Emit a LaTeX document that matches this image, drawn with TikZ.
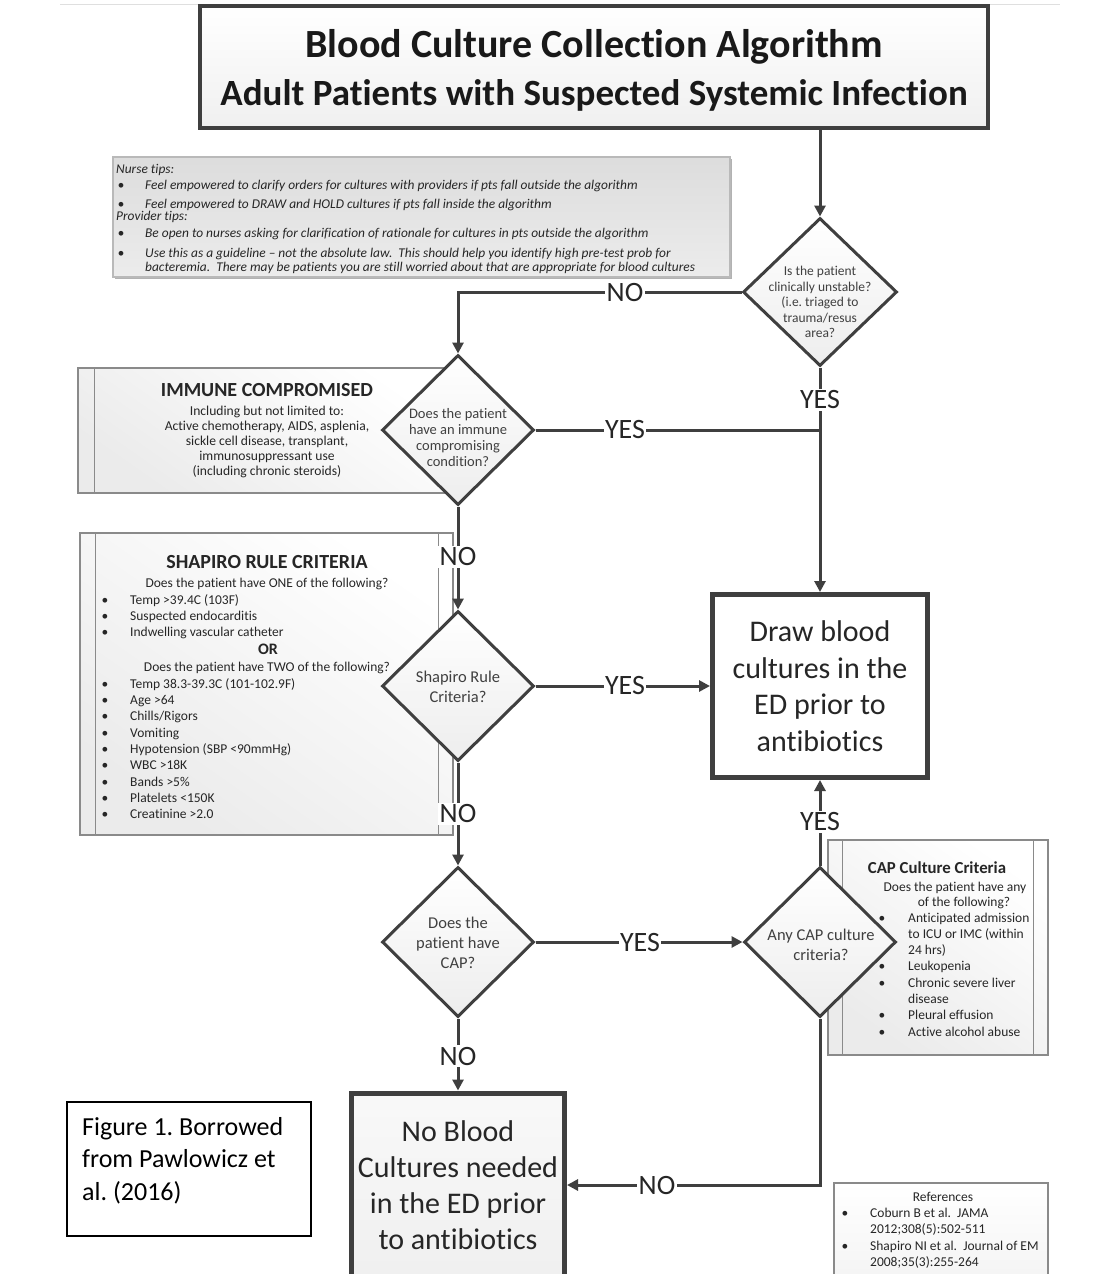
\documentclass[tikz,border=0pt]{standalone}
\usepackage{fontspec}
\setmainfont{Carlito}[Ligatures={NoCommon}]
\usetikzlibrary{arrows.meta,shapes.geometric,calc}
\definecolor{ln}{HTML}{3F3F3F}
\definecolor{tx}{HTML}{262626}
\definecolor{dtx}{HTML}{404040}
\definecolor{bx}{HTML}{8A8A8A}
\newcommand\myfs[2]{\fontsize{#1}{#2}\selectfont}
\frenchspacing
\begin{document}
\begin{tikzpicture}[x=1pt,y=-1pt,
  conn/.style={draw=ln,line width=3pt},
  arr/.style={-{Triangle[length=11pt,width=11pt]}},
  dia/.style={diamond,draw=ln,line width=3pt,minimum width=152pt,minimum height=150pt,inner sep=0pt,top color=white,bottom color=gray!14},
  dtext/.style={align=center,text=dtx,inner sep=0pt},
  lab/.style={fill=white,inner sep=1.5pt,text=tx,font=\myfs{28}{30}},
  bigbox/.style={draw=ln,line width=5pt,inner sep=0pt,align=center,text=tx},
  critbox/.style={draw=bx,line width=1.2pt,inner sep=0pt,shading=axis,top color=white,bottom color=gray!16,shading angle=-35},
  boxln/.style={draw=bx,line width=1.2pt},
  sm/.style={font=\myfs{13.5}{16},text=tx,inner sep=0pt},
  smi/.style={font=\itshape\myfs{13.4}{15},text=tx,inner sep=0pt},
  hd/.style={font=\bfseries\myfs{#1}{#1},text=tx,inner sep=0pt,anchor=base},
  ttl/.style={font=\bfseries\myfs{#1}{#1},text=black!90,inner sep=0pt,anchor=base},
]
\clip (0,0) rectangle (1104,1274);
\fill[white] (0,0) rectangle (1104,1274);
\coordinate (tl1) at (60,4);
\coordinate (tl2) at (1060,4);
\draw[gray!25,line width=1pt] (tl1) -- (tl2);

% ---------- title ----------
\node[draw=ln,line width=4pt,inner sep=0pt,minimum width=788pt,minimum height=122pt,
      top color=white,bottom color=gray!12] (title) at (594,67) {};
\node[ttl=40] (t1) at (594,57) {Blood Culture Collection Algorithm};
\node[ttl=37] (t2) at (594,105) {Adult Patients with Suspected Systemic Infection};

% ---------- nurse tips ----------
\fill[gray!60] (115,159) rectangle (732,279);
\node[draw=gray!55,line width=1.2pt,inner sep=0pt,minimum width=617pt,minimum height=120pt,
      top color=gray!27,bottom color=gray!15] (nurse) at (421.5,217) {};
\node[smi,anchor=base west] (n0) at (116,173) {Nurse tips:};
\node[smi,anchor=base] (nb1) at (121,189) {•};
\node[smi,anchor=base west] (n1) at (145,189) {Feel empowered to clarify orders for cultures with providers if pts fall outside the algorithm};
\node[smi,anchor=base] (nb2) at (121,208) {•};
\node[smi,anchor=base west] (n2) at (145,208) {Feel empowered to DRAW and HOLD cultures if pts fall inside the algorithm};
\node[smi,anchor=base west] (n3) at (116,220) {Provider tips:};
\node[smi,anchor=base] (nb3) at (121,237) {•};
\node[smi,anchor=base west] (n4) at (145,237) {Be open to nurses asking for clarification of rationale for cultures in pts outside the algorithm};
\node[smi,anchor=base] (nb4) at (121,257) {•};
\node[smi,anchor=base west] (n5) at (145,257) {Use this as a guideline – not the absolute law.~~This should help you identify high pre-test prob for};
\node[smi,anchor=base west] (n6) at (145,271) {bacteremia.~~There may be patients you are still worried about that are appropriate for blood cultures};

% ---------- immune box ----------
\node[critbox,minimum width=370pt,minimum height=125pt] (imm) at (263,430.5) {};
\draw[boxln] ($(imm.north west)+(17,0)$) -- ($(imm.south west)+(17,0)$);
\node[hd=20] (immt) at (267,396.5) {IMMUNE COMPROMISED};
\foreach \t [count=\i] in {{Including but not limited to:},{Active chemotherapy, AIDS, asplenia,},{sickle cell disease, transplant,},{immunosuppressant use},{(including chronic steroids)}}
  \node[sm,font=\myfs{13.6}{14},anchor=base] (im\i) at (267,{415+15*(\i-1)}) {\t};

% ---------- shapiro box ----------
\node[critbox,minimum width=373pt,minimum height=302pt] (sh) at (266.5,684) {};
\draw[boxln] ($(sh.north west)+(16,0)$) -- ($(sh.south west)+(16,0)$);
\draw[boxln] ($(sh.north east)+(-15,0)$) -- ($(sh.south east)+(-15,0)$);
\node[hd=20] (sht) at (267,568.5) {SHAPIRO RULE CRITERIA};
\node[sm,anchor=base] (sh1) at (267,587) {Does the patient have ONE of the following?};
\foreach \t [count=\i] in {{Temp >39.4C (103F)},{Suspected endocarditis},{Indwelling vascular catheter}}{
  \node[sm,anchor=base] (sab\i) at (105,{604+16*(\i-1)}) {•};
  \node[sm,anchor=base west] (sa\i) at (130,{604+16*(\i-1)}) {\t};
}
\node[hd=16] (shor) at (268,654.5) {OR};
\node[sm,anchor=base] (sh2) at (267,671) {Does the patient have TWO of the following?};
\foreach \t [count=\i] in {{Temp 38.3-39.3C (101-102.9F)},{Age >64},{Chills/Rigors},{Vomiting},{Hypotension (SBP <90mmHg)},{WBC >18K},{Bands >5\%},{Platelets <150K},{Creatinine >2.0}}{
  \node[sm,anchor=base] (sbb\i) at (105,{688+16.35*(\i-1)}) {•};
  \node[sm,anchor=base west] (sb\i) at (130,{688+16.35*(\i-1)}) {\t};
}

% ---------- CAP box ----------
\node[critbox,minimum width=220pt,minimum height=215pt] (cap) at (938,947.5) {};
\draw[boxln] ($(cap.north west)+(15,0)$) -- ($(cap.south west)+(15,0)$);
\draw[boxln] ($(cap.north east)+(-15,0)$) -- ($(cap.south east)+(-15,0)$);
\node[hd=16.8] (capt) at (937,873.5) {CAP Culture Criteria};
\node[sm,anchor=base] (cap1) at (955,891) {Does the patient have any};
\node[sm,anchor=base] (cap2) at (964,906) {of the following?};
\foreach \t [count=\i] in {{Anticipated admission},{to ICU or IMC (within},{24 hrs)},{Leukopenia},{Chronic severe liver},{disease},{Pleural effusion},{Active alcohol abuse}}
  \node[sm,anchor=base west] (cl\i) at (908,{922+16.3*(\i-1)}) {\t};
\foreach \k in {1,4,5,7,8}
  \node[sm,anchor=base] (cb\k) at (882,{922+16.3*(\k-1)}) {•};

% ---------- references ----------
\node[draw=bx,line width=1.2pt,inner sep=0pt,minimum width=214pt,minimum height=92pt,
      top color=white,bottom color=gray!8] (refs) at (941,1229) {};
\node[sm,anchor=base] (rt) at (943,1201) {References};
\node[sm,anchor=base] (rb1) at (845,1217) {•};
\node[sm,anchor=base west] (r1) at (870,1217) {Coburn B et al.~~JAMA};
\node[sm,anchor=base west] (r2) at (870,1233.5) {2012;308(5):502-511};
\node[sm,anchor=base] (rb2) at (845,1250) {•};
\node[sm,anchor=base west] (r3) at (870,1250) {Shapiro NI et al.~~Journal of EM};
\node[sm,anchor=base west] (r4) at (870,1266) {2008;35(3):255-264};

% ---------- figure caption ----------
\node[draw=black,line width=1.5pt,inner sep=0pt,minimum width=244pt,minimum height=134pt,fill=white] (fig) at (189,1169) {};
\foreach \t [count=\i] in {{Figure 1. Borrowed},{from Pawlowicz et},{al. (2016)}}
  \node[font=\myfs{26}{30},text=black,inner sep=0pt,anchor=base west] (f\i) at (82,{1135+32.5*(\i-1)}) {\t};

% ---------- diamonds ----------
\node[dia,minimum width=154pt,minimum height=148pt] (d1) at (820,292) {};
\node[dtext,font=\myfs{13.5}{15.5}] (d1t) at (820,302) {Is the patient\\clinically unstable?\\(i.e. triaged to\\trauma/resus\\area?};
\node[dia] (d2) at (458,430) {};
\node[dtext,font=\myfs{14.5}{16.3}] (d2t) at (458,437.5) {Does the patient\\have an immune\\compromising\\condition?};
\node[dia] (d3) at (458,686) {};
\node[dtext,font=\myfs{16.5}{20}] (d3t) at (458,687) {Shapiro Rule\\Criteria?};
\node[dia] (d4) at (458,942) {};
\node[dtext,font=\myfs{16.5}{20}] (d4t) at (458,943) {Does the\\patient have\\CAP?};
\node[dia] (d5) at (820,942) {};
\node[dtext,font=\myfs{16.5}{20}] (d5t) at (821,945) {Any CAP culture\\criteria?};

% ---------- outcome boxes ----------
\node[bigbox,fill=white,minimum width=215pt,minimum height=183pt,font=\myfs{30}{36.5}] (draw) at (820,686)
  {Draw blood\\cultures in the\\ED prior to\\antibiotics};
\node[bigbox,top color=gray!5,bottom color=gray!12,minimum width=213pt,minimum height=184pt,font=\myfs{30}{36}] (nob) at (458,1185)
  {No Blood\\Cultures needed\\in the ED prior\\to antibiotics};

% ---------- connectors ----------
\draw[conn,arr] (d1.north |- title.south) -- (d1.north);
\draw[conn,arr] (d1.west) -| (d2.north);
\draw[conn,arr] (d1.south) -- (draw.north);
\draw[conn] (d2.east) -- (d2.east -| d1.south);
\draw[conn,arr] (d2.south) -- (d3.north);
\draw[conn,arr] (d3.east) -- (draw.west);
\draw[conn,arr] (d3.south) -- (d4.north);
\draw[conn,arr] (d4.east) -- (d5.west);
\draw[conn,arr] (d5.north) -- (draw.south);
\draw[conn,arr] (d5.south) |- (nob.east);
\draw[conn,arr] (d4.south) -- (nob.north);

% ---------- labels ----------
\node[lab] (l1) at (625,293) {NO};
\node[lab] (l2) at (820,400) {YES};
\node[lab] (l3) at (625,430) {YES};
\node[lab] (l4) at (458,557) {NO};
\node[lab] (l5) at (625,686) {YES};
\node[lab] (l6) at (458,814) {NO};
\node[lab] (l7) at (640,942) {YES};
\node[lab] (l8) at (820,822) {YES};
\node[lab] (l9) at (458,1056) {NO};
\node[lab] (l10) at (657,1185) {NO};
\end{tikzpicture}
\end{document}
